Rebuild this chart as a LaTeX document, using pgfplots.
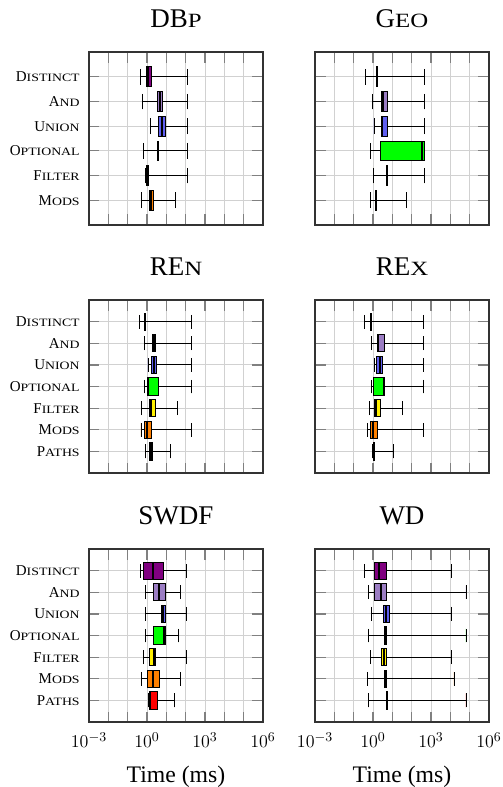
\documentclass[border=0pt]{standalone}
\usepackage{fontspec}
\setmainfont{Liberation Serif}
\usepackage{graphicx}
\usepackage{xcolor}
\usepackage{pgfplots}
\pgfplotsset{compat=1.18}
\usepgfplotslibrary{statistics}

\definecolor{cDistinct}{RGB}{128,0,128}
\definecolor{cAnd}{RGB}{155,125,195}
\definecolor{cUnion}{RGB}{95,95,240}
\definecolor{cOptional}{RGB}{0,255,0}
\definecolor{cFilter}{RGB}{255,240,0}
\definecolor{cMods}{RGB}{255,128,0}
\definecolor{cPaths}{RGB}{255,0,0}

% fake small caps: first letter full size, rest scaled
\newcommand{\smc}[2]{#1\scalebox{0.92}[0.75]{#2}}

% one horizontal box: colour, position, lw, q1, median, q3, uw (log10 of ms)
\newcommand{\bx}[7]{%
  \addplot[draw=black, fill=#1,
    boxplot prepared={draw position=#2, lower whisker=#3,
      lower quartile=#4, median=#5, upper quartile=#6, upper whisker=#7}]
    coordinates {};}

\pgfplotsset{
  panel/.style={
    scale only axis, width=116pt, height=115.3pt,
    xmin=-3, xmax=6, ymin=0,
    xtick={-3,...,6},
    xticklabels={},
    boxplot/draw direction=x,
    boxplot/every box/.style={line width=0.6pt},
    boxplot/every whisker/.style={line width=0.6pt},
    boxplot/every median/.style={line width=1.3pt},
    grid=major,
    major grid style={black!18, line width=0.6pt},
    major tick length=7pt,
    tick style={black!50, line width=0.8pt},
    axis line style={black!80, line width=0.8pt},
    every axis title/.style={at={(0.5,1)}, anchor=base, yshift=16.2pt,
      font=\fontsize{18}{21}\selectfont},
    every x tick label/.style={anchor=base, yshift=-17.3pt,
      font=\fontsize{13}{15}\selectfont},
    every y tick label/.style={anchor=east, xshift=-2.7pt},
    every axis x label/.style={at={(0.5,0)}, anchor=base, yshift=-40pt,
      font=\fontsize{15.8}{18}\selectfont},
  },
  six/.style={ymax=7, ytick={1,...,6}},
  seven/.style={ymax=8, ytick={1,...,7}},
  labsix/.style={yticklabels={\smc{M}{ODS},\smc{F}{ILTER},\smc{O}{PTIONAL},
      \smc{U}{NION},\smc{A}{ND},\smc{D}{ISTINCT}}},
  labseven/.style={yticklabels={\smc{P}{ATHS},\smc{M}{ODS},\smc{F}{ILTER},\smc{O}{PTIONAL},
      \smc{U}{NION},\smc{A}{ND},\smc{D}{ISTINCT}}},
  nolab/.style={yticklabels={}},
  timeaxis/.style={xticklabels={$10^{-3}$,,,$10^{0}$,,,$10^{3}$,,,$10^{6}$},
    xlabel={Time (ms)}},
}

\begin{document}
\begin{tikzpicture}
\path[use as bounding box] (0,0) rectangle (335.33pt,524.67pt);

% DBp
\begin{axis}[panel, six, labsix, title={\smc{DB}{P}},
  at={(59.33pt,374.67pt)}, anchor=south west]
\bx{cDistinct}{6}{-0.36}{-0.05}{0.03}{0.24}{2.11}
\bx{cAnd}{5}{-0.22}{0.55}{0.69}{0.81}{2.11}
\bx{cUnion}{4}{0.19}{0.59}{0.76}{0.93}{2.11}
\bx{cOptional}{3}{-0.17}{0.55}{0.57}{0.59}{2.11}
\bx{cFilter}{2}{-0.10}{-0.03}{0.02}{0.07}{2.11}
\bx{cMods}{1}{-0.28}{0.12}{0.21}{0.33}{1.45}
\end{axis}

% Geo
\begin{axis}[panel, six, nolab, title={\smc{G}{EO}},
  at={(210pt,374.67pt)}, anchor=south west]
\bx{cDistinct}{6}{-0.40}{0.17}{0.19}{0.21}{2.68}
\bx{cAnd}{5}{-0.02}{0.42}{0.52}{0.76}{2.68}
\bx{cUnion}{4}{0.05}{0.43}{0.48}{0.73}{2.68}
\bx{cOptional}{3}{-0.12}{0.40}{2.53}{2.66}{2.68}
\bx{cFilter}{2}{0.02}{0.69}{0.71}{0.73}{2.68}
\bx{cMods}{1}{-0.12}{0.15}{0.17}{0.19}{1.73}
\end{axis}

% REn
\begin{axis}[panel, seven, labseven, title={\smc{RE}{N}},
  at={(59.33pt,209.33pt)}, anchor=south west]
\bx{cDistinct}{7}{-0.40}{-0.12}{-0.10}{-0.08}{2.32}
\bx{cAnd}{6}{-0.12}{0.28}{0.36}{0.43}{2.32}
\bx{cUnion}{5}{0.05}{0.21}{0.36}{0.50}{2.32}
\bx{cOptional}{4}{-0.12}{0.03}{0.05}{0.61}{2.32}
\bx{cFilter}{3}{-0.28}{0.12}{0.21}{0.45}{1.56}
\bx{cMods}{2}{-0.31}{-0.12}{0.02}{0.21}{2.32}
\bx{cPaths}{1}{-0.09}{0.12}{0.19}{0.29}{1.23}
\end{axis}

% REx
\begin{axis}[panel, seven, nolab, title={\smc{RE}{X}},
  at={(210pt,209.33pt)}, anchor=south west]
\bx{cDistinct}{7}{-0.43}{-0.11}{-0.09}{-0.07}{2.60}
\bx{cAnd}{6}{-0.07}{0.24}{0.28}{0.59}{2.60}
\bx{cUnion}{5}{0.10}{0.19}{0.36}{0.50}{2.60}
\bx{cOptional}{4}{-0.10}{0.02}{0.57}{0.61}{2.60}
\bx{cFilter}{3}{-0.17}{0.09}{0.14}{0.40}{1.51}
\bx{cMods}{2}{-0.29}{-0.12}{0.02}{0.21}{2.60}
\bx{cPaths}{1}{-0.02}{0.03}{0.05}{0.07}{1.04}
\end{axis}

% SWDF
\begin{axis}[panel, seven, labseven, timeaxis, title={SWDF},
  at={(59.33pt,43.33pt)}, anchor=south west]
\bx{cDistinct}{7}{-0.36}{-0.19}{0.31}{0.83}{2.06}
\bx{cAnd}{6}{-0.10}{0.33}{0.64}{0.95}{1.75}
\bx{cUnion}{5}{-0.10}{0.74}{0.85}{0.95}{2.06}
\bx{cOptional}{4}{-0.09}{0.35}{0.87}{0.93}{1.63}
\bx{cFilter}{3}{-0.16}{0.14}{0.38}{0.43}{2.06}
\bx{cMods}{2}{-0.28}{0.00}{0.31}{0.66}{1.75}
\bx{cPaths}{1}{0.07}{0.12}{0.14}{0.55}{1.42}
\end{axis}

% WD
\begin{axis}[panel, seven, nolab, timeaxis, title={WD},
  at={(210pt,43.33pt)}, anchor=south west]
\bx{cDistinct}{7}{-0.42}{0.09}{0.29}{0.71}{4.05}
\bx{cAnd}{6}{-0.22}{0.10}{0.43}{0.71}{4.81}
\bx{cUnion}{5}{-0.09}{0.52}{0.67}{0.87}{4.05}
\bx{cOptional}{4}{-0.21}{0.57}{0.64}{0.71}{4.81}
\bx{cFilter}{3}{-0.14}{0.42}{0.55}{0.71}{4.05}
\bx{cMods}{2}{-0.31}{0.57}{0.64}{0.71}{4.19}
\bx{cPaths}{1}{-0.21}{0.71}{0.73}{0.75}{4.81}
\end{axis}
\end{tikzpicture}
\end{document}
